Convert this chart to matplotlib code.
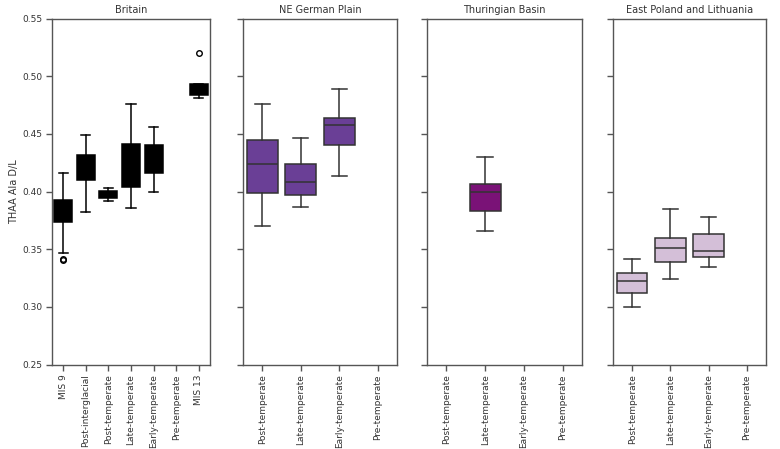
import matplotlib
matplotlib.use("Agg")
import matplotlib.pyplot as plt

# ---- data ----
regions = ["Britain", "NE German Plain", "Thuringian Basin", "East Poland and Lithuania"]
colors = ["#000000", "#6a3f96", "#7a1277", "#d4bfd8"]

britain_cats = ["MIS 9", "Post-interglacial", "Post-temperate", "Late-temperate",
                "Early-temperate", "Pre-temperate", "MIS 13"]
# whislo, q1, med, q3, whishi, fliers  (None = no data)
britain_stats = [
    (0.347, 0.3735, 0.383, 0.3925, 0.416, [0.3415, 0.3405]),
    (0.3827, 0.410, 0.421, 0.432, 0.4494, []),
    (0.3922, 0.3945, 0.397, 0.4003, 0.403, []),
    (0.3856, 0.4038, 0.422, 0.4411, 0.4758, []),
    (0.3994, 0.416, 0.428, 0.4405, 0.4558, []),
    None,
    (0.481, 0.4839, 0.488, 0.4934, 0.4934, [0.5205]),
]

stage_cats = ["Post-temperate", "Late-temperate", "Early-temperate", "Pre-temperate"]
ne_german_stats = [
    (0.3705, 0.3985, 0.4235, 0.4445, 0.476, []),
    (0.387, 0.397, 0.4086, 0.424, 0.4465, []),
    (0.4132, 0.4407, 0.4578, 0.4639, 0.489, []),
    None,
]
thuringian_stats = [
    None,
    (0.3659, 0.3829, 0.400, 0.4066, 0.4303, []),
    None,
    None,
]
east_poland_stats = [
    (0.3002, 0.3121, 0.3222, 0.3291, 0.3416, []),
    (0.3242, 0.3387, 0.3514, 0.3598, 0.385, []),
    (0.3349, 0.343, 0.3488, 0.3633, 0.378, []),
    None,
]

panels = [
    (britain_cats, britain_stats),
    (stage_cats, ne_german_stats),
    (stage_cats, thuringian_stats),
    (stage_cats, east_poland_stats),
]

y_ticks = [0.25, 0.30, 0.35, 0.40, 0.45, 0.50, 0.55]

# ---- figure ----
W, H = 780, 449
fig = plt.figure(figsize=(W / 100, H / 100), dpi=100)
lefts = [52, 243, 427, 613]
widths = [158, 154, 155, 153]
top, bottom = 18.6, 364.6
text_c = "#333333"
spine_c = "#555555"

for i, (region, (cats, stats), col) in enumerate(zip(regions, panels, colors)):
    ax = fig.add_axes([lefts[i] / W, 1 - bottom / H, widths[i] / W, (bottom - top) / H])
    line_c = "#000000" if i == 0 else "#333333"
    bstats, pos = [], []
    for j, s in enumerate(stats):
        if s is None:
            continue
        lo, q1, med, q3, hi, fl = s
        bstats.append(dict(whislo=lo, q1=q1, med=med, q3=q3, whishi=hi, fliers=fl))
        pos.append(j)
    ax.bxp(bstats, positions=pos, widths=0.8, patch_artist=True,
           boxprops=dict(facecolor=col, edgecolor=line_c, linewidth=1.1),
           medianprops=dict(color=line_c, linewidth=1.1),
           whiskerprops=dict(color=line_c, linewidth=1.1),
           capprops=dict(color=line_c, linewidth=1.1),
           flierprops=dict(marker="o", markerfacecolor="none", markeredgecolor=line_c,
                           markersize=4, markeredgewidth=1.0))
    ax.set_xlim(-0.5, len(cats) - 0.5)
    ax.set_ylim(0.25, 0.55)
    ax.set_xticks(range(len(cats)))
    ax.set_xticklabels(cats, rotation=90, fontsize=6.5, color=text_c)
    ax.set_yticks(y_ticks)
    if i == 0:
        ax.set_yticklabels([f"{v:.2f}" for v in y_ticks], fontsize=6.5, color=text_c)
        ax.set_ylabel("THAA Ala D/L", fontsize=7, color=text_c, labelpad=2)
    else:
        ax.set_yticklabels([])
    ax.tick_params(axis="both", length=4.5, width=1, color=spine_c, pad=2.5)
    for sp in ax.spines.values():
        sp.set_color(spine_c)
        sp.set_linewidth(1.0)
    ax.set_title(region, fontsize=7, color=text_c, pad=4)

fig.savefig("out.png", dpi=100)
